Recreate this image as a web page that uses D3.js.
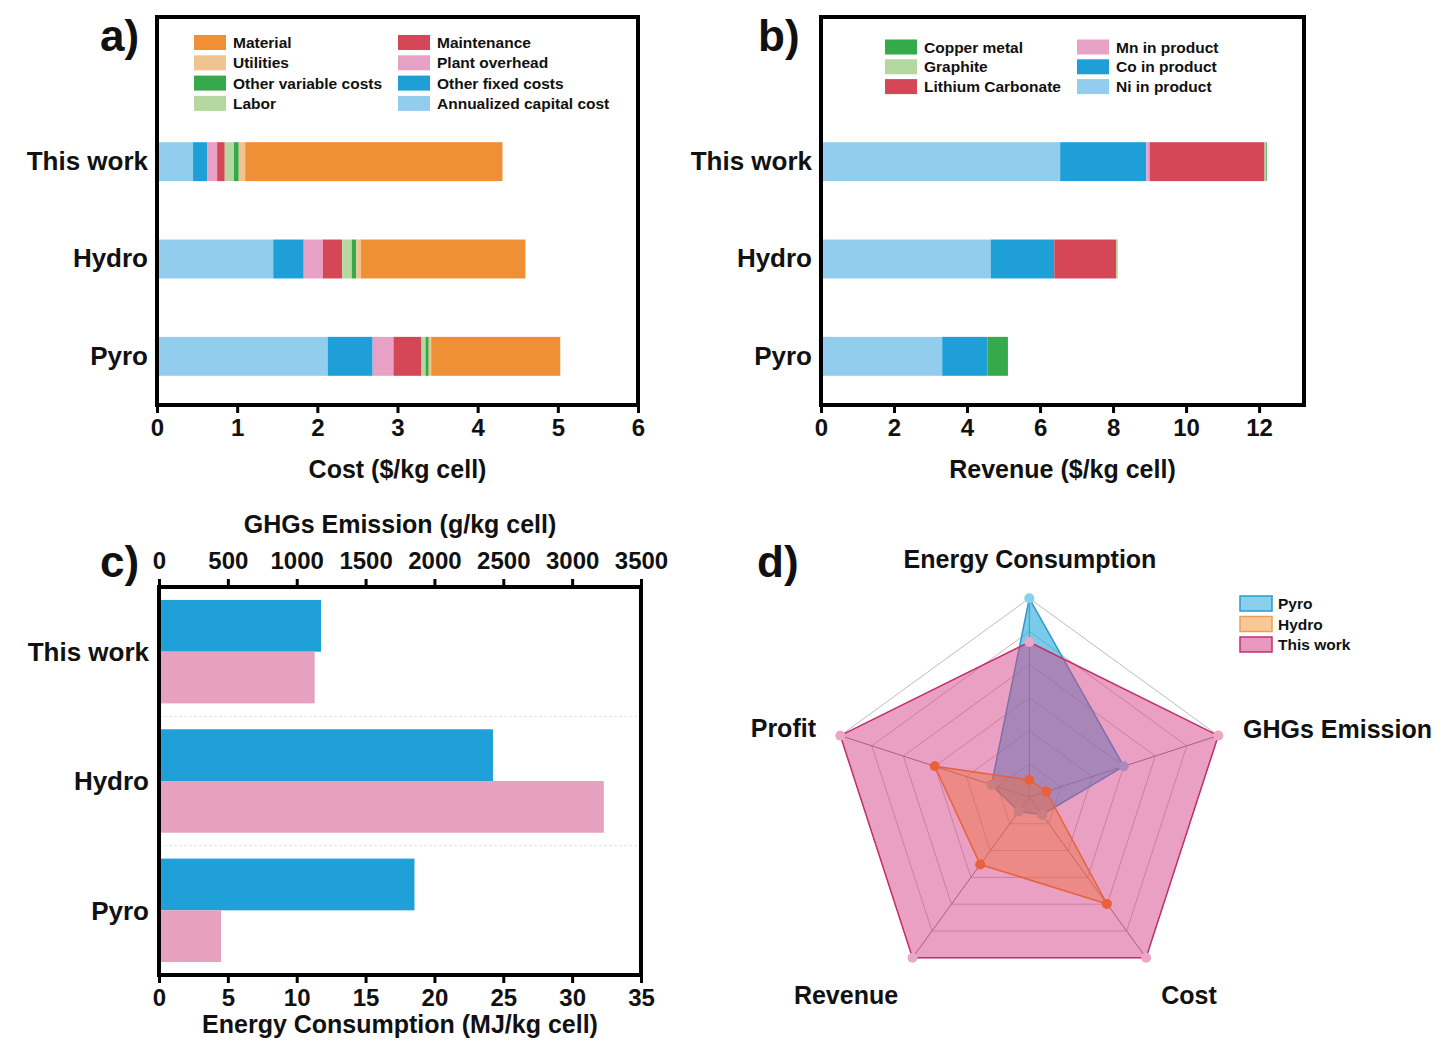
<!DOCTYPE html>
<html>
<head>
<meta charset="utf-8">
<script src="https://cdn.jsdelivr.net/npm/d3@7"></script>
<style>
  body { margin: 0; background: #fff; }
  text { font-family: "Liberation Sans", Arial, sans-serif; font-weight: bold; fill: #111; }
</style>
</head>
<body>
<svg id="fig" width="1448" height="1045"></svg>
<script>
// recycling routes, top to bottom
const routes = ['This work', 'Hydro', 'Pyro'];

// a) cost breakdown ($/kg cell), stacked from the axis outward
const costKeys = ['Annualized capital cost', 'Other fixed costs', 'Plant overhead', 'Maintenance',
                  'Labor', 'Other variable costs', 'Utilities', 'Material'];
const capitalCost   = [0.45, 1.45, 2.13];
const otherFixed    = [0.175, 0.38, 0.56];
const plantOverhead = [0.125, 0.24, 0.26];
const maintenance   = [0.095, 0.24, 0.35];
const labor         = [0.115, 0.12, 0.05];
const otherVariable = [0.06, 0.055, 0.04];
const utilities     = [0.08, 0.06, 0.03];
const material      = [3.21, 2.05, 1.61];
const costLegend = ['Material', 'Utilities', 'Other variable costs', 'Labor',
                    'Maintenance', 'Plant overhead', 'Other fixed costs', 'Annualized capital cost'];
const costTicks = [0, 1, 2, 3, 4, 5, 6];

// b) revenue breakdown ($/kg cell)
const revKeys = ['Ni in product', 'Co in product', 'Mn in product', 'Lithium Carbonate', 'Graphite', 'Copper metal'];
const niRev       = [6.55, 4.65, 3.32];
const coRev       = [2.36, 1.74, 1.24];
const mnRev       = [0.09, 0, 0];
const liRev       = [3.15, 1.69, 0];
const graphiteRev = [0.04, 0.05, 0];
const copperRev   = [0.02, 0, 0.56];
const revLegend = ['Copper metal', 'Graphite', 'Lithium Carbonate', 'Mn in product', 'Co in product', 'Ni in product'];
const revTicks = [0, 2, 4, 6, 8, 10, 12];

// c) GHGs emission (g/kg cell, top axis) and energy consumption (MJ/kg cell, bottom axis)
const ghgEmission = [1177, 2425, 1855];
const energyUse   = [11.3, 32.3, 4.5];
const ghgTicks    = [0, 500, 1000, 1500, 2000, 2500, 3000, 3500];
const energyTicks = [0, 5, 10, 15, 20, 25, 30, 35];

// d) normalised radar scores
const radarAxes = ['Energy Consumption', 'GHGs Emission', 'Cost', 'Revenue', 'Profit'];
const radarPyro     = [1.0, 0.50, 0.11, 0.09, 0.20];
const radarHydro    = [0.086, 0.09, 0.665, 0.42, 0.50];
const radarThisWork = [0.78, 1, 1, 1, 1];

const colors = {
  'Material': '#ef9037', 'Utilities': '#efc48f', 'Other variable costs': '#36a94b', 'Labor': '#b5d8a0',
  'Maintenance': '#d54656', 'Plant overhead': '#e7a1c4', 'Other fixed costs': '#1f9fd8',
  'Annualized capital cost': '#93cdee',
  'Copper metal': '#36a94b', 'Graphite': '#b5d8a0', 'Lithium Carbonate': '#d54656',
  'Mn in product': '#e8a2c5', 'Co in product': '#1f9fd8', 'Ni in product': '#93cdee'
};

const svg = d3.select('#fig');
svg.append('rect').attr('width', 1448).attr('height', 1045).attr('fill', '#fff');

function panelLetter(t, x, y) {
  svg.append('text').attr('x', x).attr('y', y).attr('font-size', 44).text(t);
}

function styleAxis(g, size) {
  g.select('.domain').remove();
  g.selectAll('.tick line').attr('stroke', '#000').attr('stroke-width', 3);
  g.selectAll('.tick text').attr('font-size', size).attr('fill', '#111')
    .style('font-family', '"Liberation Sans", Arial, sans-serif').style('font-weight', 'bold');
}

function stackedPanel(o) {
  const rows = routes.map((r, i) => {
    const row = { route: r };
    o.keys.forEach((k, j) => row[k] = o.series[j][i]);
    return row;
  });
  const x = d3.scaleLinear().domain([0, o.max]).range([o.left, o.right]);
  const y = d3.scaleBand().domain(routes).range([113, o.bottom]).paddingInner(0.6).paddingOuter(0.3);
  const stacked = d3.stack().keys(o.keys)(rows);

  svg.append('g').selectAll('g').data(stacked).join('g')
    .attr('fill', d => colors[d.key])
    .selectAll('rect').data(d => d).join('rect')
    .attr('x', d => x(d[0]))
    .attr('y', d => y(d.data.route))
    .attr('width', d => x(d[1]) - x(d[0]))
    .attr('height', y.bandwidth());

  const ax = svg.append('g').attr('transform', `translate(0,${o.bottom})`)
    .call(d3.axisBottom(x).tickValues(o.ticks).tickSize(8).tickPadding(6).tickFormat(d3.format('d')));
  styleAxis(ax, 24);

  svg.append('rect').attr('x', o.left).attr('y', o.top)
    .attr('width', o.right - o.left).attr('height', o.bottom - o.top)
    .attr('fill', 'none').attr('stroke', '#000').attr('stroke-width', 4);

  svg.append('g').selectAll('text').data(routes).join('text')
    .attr('x', o.left - 9).attr('y', d => y(d) + y.bandwidth() / 2 - 1)
    .attr('dy', '0.36em').attr('text-anchor', 'end').attr('font-size', 26).text(d => d);

  svg.append('text').attr('x', (o.left + o.right) / 2).attr('y', 478)
    .attr('text-anchor', 'middle').attr('font-size', 25).text(o.title);

  // legend in two columns
  const leg = svg.append('g');
  o.legend.forEach((k, i) => {
    const col = Math.floor(i / o.perCol), row = i % o.perCol;
    const gx = o.legX[col], gy = o.legY + row * o.legStep;
    leg.append('rect').attr('x', gx).attr('y', gy).attr('width', 32).attr('height', 15).attr('fill', colors[k]);
    leg.append('text').attr('x', gx + 39).attr('y', gy + 13).attr('font-size', 15.5).text(k);
  });
}

// ---- a) ----
stackedPanel({
  keys: costKeys,
  series: [capitalCost, otherFixed, plantOverhead, maintenance, labor, otherVariable, utilities, material],
  max: 6, ticks: costTicks, left: 157, right: 638, top: 17, bottom: 405,
  title: 'Cost ($/kg cell)', legend: costLegend, perCol: 4,
  legX: [194, 398], legY: 35, legStep: 20.3
});
panelLetter('a)', 100, 51);

// ---- b) ----
stackedPanel({
  keys: revKeys,
  series: [niRev, coRev, mnRev, liRev, graphiteRev, copperRev],
  max: 13.23, ticks: revTicks, left: 821, right: 1304, top: 17, bottom: 405,
  title: 'Revenue ($/kg cell)', legend: revLegend, perCol: 3,
  legX: [885, 1077], legY: 39.5, legStep: 19.8
});
panelLetter('b)', 758, 51);

// ---- c) ----
(function () {
  const left = 159, right = 641, top = 587, bottom = 975;
  const xg = d3.scaleLinear().domain([0, 3500]).range([left, right]);
  const xe = d3.scaleLinear().domain([0, 35]).range([left, right]);
  const y = d3.scaleBand().domain(routes).range([top, bottom]).paddingInner(0.2).paddingOuter(0.1);
  const y2 = d3.scaleBand().domain(['ghg', 'energy']).range([0, y.bandwidth()]);

  // faint separators between groups
  svg.append('g').selectAll('line').data(routes.slice(1)).join('line')
    .attr('x1', left).attr('x2', right)
    .attr('y1', d => y(d) - y.step() * y.paddingInner() / 2)
    .attr('y2', d => y(d) - y.step() * y.paddingInner() / 2)
    .attr('stroke', '#e2e2e2').attr('stroke-dasharray', '3,2');

  svg.append('g').selectAll('rect').data(routes).join('rect')
    .attr('x', left).attr('y', d => y(d) + y2('ghg'))
    .attr('width', (d, i) => xg(ghgEmission[i]) - left).attr('height', y2.bandwidth())
    .attr('fill', '#1fa0d8');
  svg.append('g').selectAll('rect').data(routes).join('rect')
    .attr('x', left).attr('y', d => y(d) + y2('energy'))
    .attr('width', (d, i) => xe(energyUse[i]) - left).attr('height', y2.bandwidth())
    .attr('fill', '#e6a0c0');

  const at = svg.append('g').attr('transform', `translate(0,${top})`)
    .call(d3.axisTop(xg).tickValues(ghgTicks).tickSize(8).tickPadding(10).tickFormat(d3.format('d')));
  styleAxis(at, 24);
  const ab = svg.append('g').attr('transform', `translate(0,${bottom})`)
    .call(d3.axisBottom(xe).tickValues(energyTicks).tickSize(8).tickPadding(6).tickFormat(d3.format('d')));
  styleAxis(ab, 24);

  svg.append('rect').attr('x', left).attr('y', top)
    .attr('width', right - left).attr('height', bottom - top)
    .attr('fill', 'none').attr('stroke', '#000').attr('stroke-width', 4);

  svg.append('g').selectAll('text').data(routes).join('text')
    .attr('x', left - 10).attr('y', d => y(d) + y.bandwidth() / 2)
    .attr('dy', '0.36em').attr('text-anchor', 'end').attr('font-size', 26).text(d => d);

  svg.append('text').attr('x', (left + right) / 2).attr('y', 533)
    .attr('text-anchor', 'middle').attr('font-size', 25).text('GHGs Emission (g/kg cell)');
  svg.append('text').attr('x', (left + right) / 2).attr('y', 1033)
    .attr('text-anchor', 'middle').attr('font-size', 25).text('Energy Consumption (MJ/kg cell)');
})();
panelLetter('c)', 100, 577);

// ---- d) radar ----
(function () {
  const cx = 1029.3, cy = 797, R = 198.7;
  const r = d3.scaleLinear().domain([0, 1]).range([0, R]);
  const ang = i => i * 2 * Math.PI / radarAxes.length;
  const g = svg.append('g').attr('transform', `translate(${cx},${cy})`);
  const line = d3.lineRadial().angle((d, i) => ang(i)).radius(d => r(d)).curve(d3.curveLinearClosed);
  const pt = (v, i) => [r(v) * Math.sin(ang(i)), -r(v) * Math.cos(ang(i))];

  // split rings and spokes
  d3.range(1, 7).forEach(k => {
    g.append('path').attr('d', line(radarAxes.map(() => k / 6)))
      .attr('fill', 'none').attr('stroke', '#bdbdbd').attr('stroke-width', 1);
  });
  radarAxes.forEach((a, i) => {
    const p = pt(1, i);
    g.append('line').attr('x1', 0).attr('y1', 0).attr('x2', p[0]).attr('y2', p[1])
      .attr('stroke', '#7a7a7a').attr('stroke-width', 1);
  });

  const series = [
    { name: 'Pyro', values: radarPyro, fill: '#28aadc', op: 0.62, stroke: '#2a9ccc', dot: '#84d2ee' },
    { name: 'This work', values: radarThisWork, fill: '#d54187', op: 0.5, stroke: '#c3306c', dot: '#eba6c8' },
    { name: 'Hydro', values: radarHydro, fill: '#ee6e3c', op: 0.45, stroke: '#e8603c', dot: '#e8603c' }
  ];
  series.forEach(s => {
    g.append('path').attr('d', line(s.values))
      .attr('fill', s.fill).attr('fill-opacity', s.op)
      .attr('stroke', s.stroke).attr('stroke-width', 1.5);
    g.append('g').selectAll('circle').data(s.values).join('circle')
      .attr('cx', (d, i) => pt(d, i)[0]).attr('cy', (d, i) => pt(d, i)[1])
      .attr('r', 5).attr('fill', s.dot);
  });

  const labels = [
    { x: 1030, y: 568, anchor: 'middle' },
    { x: 1243, y: 738, anchor: 'start' },
    { x: 1189, y: 1004, anchor: 'middle' },
    { x: 846, y: 1004, anchor: 'middle' },
    { x: 816, y: 737, anchor: 'end' }
  ];
  radarAxes.forEach((a, i) => {
    svg.append('text').attr('x', labels[i].x).attr('y', labels[i].y)
      .attr('text-anchor', labels[i].anchor).attr('font-size', 25).text(a);
  });

  // legend
  const legendItems = [
    { name: 'Pyro', fill: '#8ad0ec', stroke: '#2a9ccc' },
    { name: 'Hydro', fill: '#f9c896', stroke: '#eda052' },
    { name: 'This work', fill: '#e897bf', stroke: '#c3306c' }
  ];
  legendItems.forEach((l, i) => {
    const y0 = 596 + i * 20.5;
    svg.append('rect').attr('x', 1240).attr('y', y0).attr('width', 32).attr('height', 15)
      .attr('fill', l.fill).attr('stroke', l.stroke).attr('stroke-width', 1.5);
    svg.append('text').attr('x', 1278).attr('y', y0 + 13).attr('font-size', 15.5).text(l.name);
  });
})();
panelLetter('d)', 757, 577);
</script>
</body>
</html>
